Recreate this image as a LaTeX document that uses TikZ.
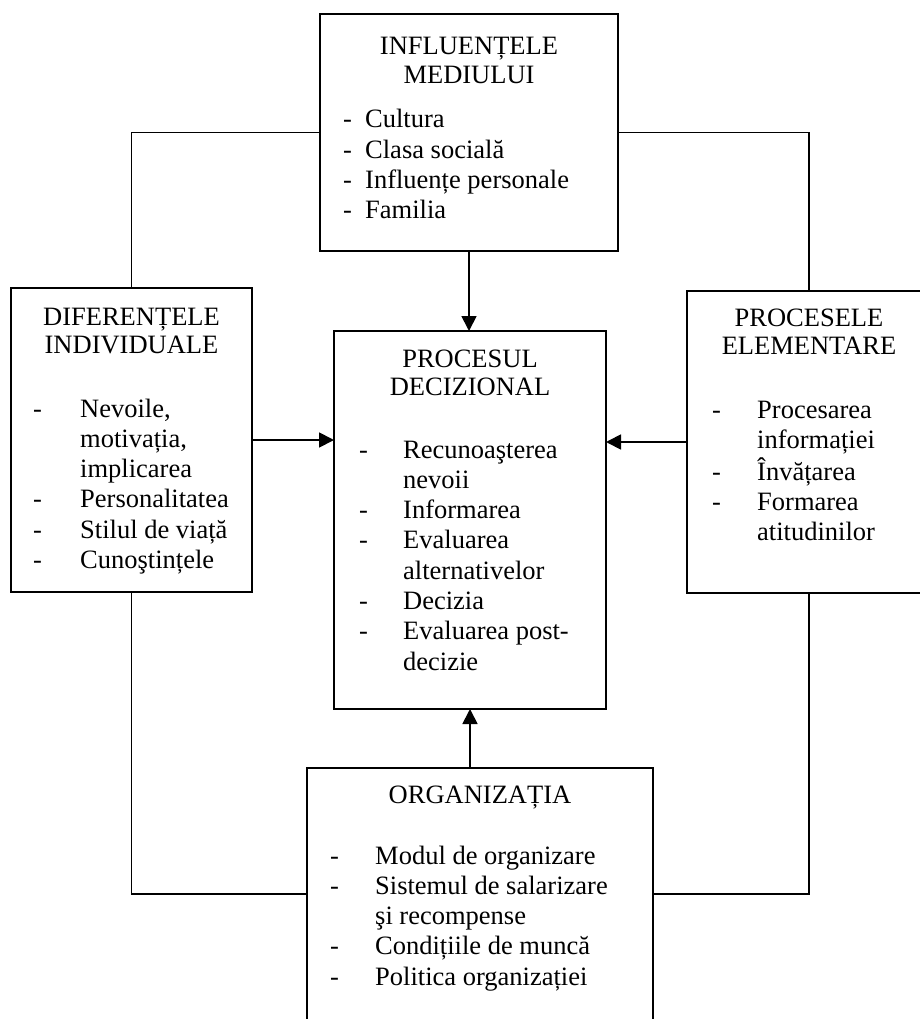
\documentclass[tikz,border=0pt]{standalone}
\usepackage{fontspec}
\setmainfont{Liberation Serif}
\usetikzlibrary{arrows.meta}
\newcommand{\headlines}[1]{\begin{tabular}[t]{@{}c@{}}#1\end{tabular}}
\newcommand{\itemlines}[2]{\begin{tabular}[t]{@{}p{#1}@{}l@{}}#2\end{tabular}}
\begin{document}
\begin{tikzpicture}[x=1pt, y=-1pt,
    box/.style={draw, line width=1.8pt, inner sep=0pt, outer sep=0pt, anchor=north west},
    head/.style={inner sep=0pt, anchor=base, font=\fontsize{26.5}{28.5}\selectfont},
    items/.style={inner sep=0pt, anchor=base west, font=\fontsize{26.5}{30.3}\selectfont},
    link/.style={line width=1.8pt},
    arr/.style={line width=1.8pt, -{Triangle[length=15pt, width=15pt]}}]
    \useasboundingbox (0,0) rectangle (920,1019);
    \clip (0,0) rectangle (920,1019);
    % Boxes
    \node[box, minimum width=298pt, minimum height=237pt] (infl) at (320,14) {};
    \node[box, minimum width=241pt, minimum height=304pt] (dif) at (11,288) {};
    \node[box, minimum width=272pt, minimum height=378pt] (proc) at (334,331) {};
    \node[box, minimum width=244pt, minimum height=302pt] (elem) at (687,291) {};
    \node[box, minimum width=346pt, minimum height=252pt] (org) at (307,768) {};
    % Environment
    \node[head] (inflHead) at (469,55) {\headlines{INFLUENȚELE\\MEDIULUI}};
    \node[items] (inflList) at (343,128) {\itemlines{22pt}{
        - & Cultura\\
        - & Clasa socială\\
        - & Influențe personale\\
        - & Familia}};
    % Individual differences
    \node[head] (difHead) at (131.5,325) {\headlines{DIFERENȚELE\\INDIVIDUALE}};
    \node[items] (difList) at (33,417) {\itemlines{47pt}{
        - & Nevoile,\\
          & motivația,\\
          & implicarea\\
        - & Personalitatea\\
        - & Stilul de viață\\
        - & Cunoştințele}};
    % Decision process
    \node[head] (procHead) at (470,367) {\headlines{PROCESUL\\DECIZIONAL}};
    \node[items] (procList) at (359,458) {\itemlines{44pt}{
        - & Recunoaşterea\\
          & nevoii\\
        - & Informarea\\
        - & Evaluarea\\
          & alternativelor\\
        - & Decizia\\
        - & Evaluarea post-\\
          & decizie}};
    % Elementary processes
    \node[head] (elemHead) at (809,326) {\headlines{PROCESELE\\ELEMENTARE}};
    \node[items] (elemList) at (712,418) {\itemlines{45pt}{
        - & Procesarea\\
          & informației\\
        - & Învățarea\\
        - & Formarea\\
          & atitudinilor}};
    % Organization
    \node[head] (orgHead) at (480,803) {\headlines{ORGANIZAȚIA}};
    \node[items] (orgList) at (330,864) {\itemlines{45pt}{
        - & Modul de organizare\\
        - & Sistemul de salarizare\\
          & şi recompense\\
        - & Condițiile de muncă\\
        - & Politica organizației}};
    % Plain links
    \draw[link] (infl.west) -| (dif.north);
    \draw[link] (infl.east) -| (elem.north);
    \draw[link] (dif.south) |- (org.west);
    \draw[link] (elem.south) |- (org.east);
    % Arrows into the decision process
    \draw[arr] (infl.south) -- (infl.south |- proc.north);
    \draw[arr] (dif.east) -- (dif.east -| proc.west);
    \draw[arr] (elem.west) -- (elem.west -| proc.east);
    \draw[arr] (org.north -| proc.south) -- (proc.south);
\end{tikzpicture}
\end{document}
